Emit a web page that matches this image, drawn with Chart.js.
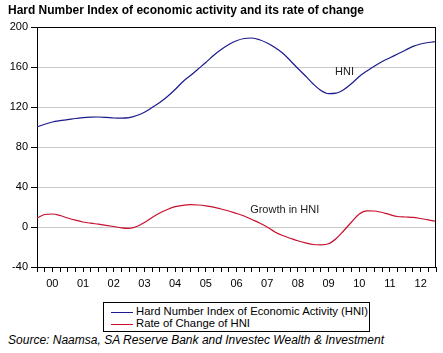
<!DOCTYPE html>
<html>
<head>
<meta charset="utf-8">
<script src="https://cdn.jsdelivr.net/npm/chart.js@4.4.1/dist/chart.umd.min.js"></script>
<style>
    body { margin: 0; background: #fff; font-family: "Liberation Sans", Arial, sans-serif; }
    #wrap { position: relative; width: 443px; height: 353px; overflow: hidden; }
    #hniChart { position: absolute; left: 0; top: 0; }
    .fit { position: absolute; white-space: nowrap; transform-origin: 0 50%; color: #000; }
    #title { left: 8px; top: 3px; font-size: 12px; font-weight: bold; }
    #source { left: 8px; top: 333px; font-size: 12px; font-style: italic; }
    #legendBox { position: absolute; left: 103px; top: 302px; width: 267px; height: 30px; border: 1px solid #000; box-sizing: border-box; }
    .legRow { position: absolute; left: 7px; height: 12px; }
    .legLine { position: absolute; left: 0; top: 6px; width: 22px; height: 1px; }
    .legText { position: absolute; left: 25px; top: -1px; font-size: 11px; white-space: nowrap; transform-origin: 0 50%; }
</style>
</head>
<body>
<div id="wrap">
    <canvas id="hniChart" width="443" height="300"></canvas>
    <div id="title" class="fit">Hard Number Index of economic activity and its rate of change</div>
    <div id="legendBox">
        <div class="legRow" style="top:3px"><div class="legLine" style="background:#1a1a8e"></div><div class="legText" id="leg1">Hard Number Index of Economic Activity (HNI)</div></div>
        <div class="legRow" style="top:15px"><div class="legLine" style="background:#c8102e"></div><div class="legText" id="leg2">Rate of Change of HNI</div></div>
    </div>
    <div id="source" class="fit">Source: Naamsa, SA Reserve Bank and Investec Wealth &amp; Investment</div>
</div>
<script>
// quarterly observations, 2000Q1 .. 2013Q1
const quarters = [];
for (let y = 2000; y <= 2012; y++) {
    for (let q = 1; q <= 4; q++) quarters.push(y + "Q" + q);
}
quarters.push("2013Q1");

const hni = [
    100, 102.8, 105, 106.3, 107.3, 108.5, 109.3, 109.8,
    110, 109.6, 109, 108.8, 109.3, 111.5, 114.8, 119.5,
    124.5, 130.5, 137.5, 145.3, 151.5, 158, 164.5, 171.5,
    177.5, 182.5, 186.3, 188.5, 189, 187.3, 184, 179.5,
    174, 166.5, 158.5, 151, 143, 136.5, 133.3, 133.8,
    137.5, 143.5, 150.5, 156, 161, 165.5, 169.3, 173,
    176.8, 180.6, 183, 184.5, 185.5
];

const hniGrowth = [
    9, 12.5, 13, 11.5, 9, 6.8, 5, 3.8,
    2.8, 1.7, 0.5, -0.8, -1.3, 0.5, 4.5, 9.5,
    14, 17.5, 20.3, 21.7, 22.3, 22, 21.2, 19.8,
    18, 16, 13.5, 11, 7.5, 4, 0, -5,
    -8.5, -11.2, -13.8, -15.8, -17.5, -17.8, -16.8, -11.5,
    -3.5, 5, 13, 16.2, 16, 14.5, 12.3, 10.5,
    10, 9.6, 8.5, 7.2, 5.6
];

const yTicks = [-40, 0, 40, 80, 120, 160, 200];

// in-chart labels: [text, quarter position, value]
const seriesLabels = [
    ["HNI", 2010.02, 155],
    ["Growth in HNI", 2008.07, 17.3]
];

function quarterToNum(s) {
    return Number(s.slice(0, 4)) + (Number(s.slice(5)) - 1) / 4;
}

const hniPoints = quarters.map((q, i) => ({ x: quarterToNum(q), y: hni[i] }));
const growthPoints = quarters.map((q, i) => ({ x: quarterToNum(q), y: hniGrowth[i] }));

const frame_plugin = {
    id: "frame",
    afterDatasetsDraw(chart) {
        const { ctx, chartArea, scales } = chart;
        ctx.save();
        ctx.strokeStyle = "#000";
        ctx.lineWidth = 1;
        ctx.beginPath();
        ctx.moveTo(chartArea.left, Math.round(chartArea.top) + 0.5);
        ctx.lineTo(chartArea.right, Math.round(chartArea.top) + 0.5);
        ctx.moveTo(Math.round(chartArea.right) - 0.5, chartArea.top);
        ctx.lineTo(Math.round(chartArea.right) - 0.5, chartArea.bottom);
        ctx.stroke();

        ctx.fillStyle = "#222";
        ctx.font = "11px 'Liberation Sans', Arial, sans-serif";
        ctx.textAlign = "center";
        ctx.textBaseline = "middle";
        seriesLabels.forEach(([text, xv, yv]) => {
            ctx.fillText(text, scales.x.getPixelForValue(xv), scales.y.getPixelForValue(yv));
        });
        ctx.restore();
    }
};

new Chart(document.getElementById("hniChart"), {
    type: "line",
    data: {
        datasets: [{
            label: "Hard Number Index of Economic Activity (HNI)",
            data: hniPoints,
            borderColor: "#1a1a8e",
            borderWidth: 1.2,
            pointRadius: 0,
            cubicInterpolationMode: "monotone"
        }, {
            label: "Rate of Change of HNI",
            data: growthPoints,
            borderColor: "#c8102e",
            borderWidth: 1.2,
            pointRadius: 0,
            cubicInterpolationMode: "monotone"
        }]
    },
    options: {
        responsive: false,
        animation: false,
        layout: { padding: { left: 0, top: 27, right: 7, bottom: 0 } },
        plugins: {
            legend: { display: false },
            tooltip: { enabled: false }
        },
        scales: {
            x: {
                type: "linear",
                min: 2000,
                max: 2013,
                afterFit(scale) { scale.height = 33; },
                border: { display: true, color: "#000", width: 1 },
                grid: { drawOnChartArea: false, tickLength: 5, tickColor: "#000" },
                ticks: {
                    stepSize: 0.25,
                    autoSkip: false,
                    maxRotation: 0,
                    padding: 5,
                    color: "#000",
                    font: { family: "'Liberation Sans', Arial, sans-serif", size: 11 },
                    callback: v => (v % 1 === 0.5) ? String(Math.floor(v) % 100).padStart(2, "0") : ""
                }
            },
            y: {
                min: -40,
                max: 200,
                afterFit(scale) { scale.width = 37; },
                afterBuildTicks(scale) { scale.ticks = yTicks.map(v => ({ value: v })); },
                border: { display: true, color: "#000", width: 1 },
                grid: {
                    tickLength: 6,
                    tickColor: "#000",
                    color: ctx => (ctx.tick && (ctx.tick.value === 200 || ctx.tick.value === -40)) ? "rgba(0,0,0,0)" : "#c8c8c8"
                },
                ticks: {
                    padding: 3,
                    color: "#000",
                    font: { family: "'Liberation Sans', Arial, sans-serif", size: 11 }
                }
            }
        }
    },
    plugins: [frame_plugin]
});

function fitWidth(id, target) {
    const el = document.getElementById(id);
    const w = el.getBoundingClientRect().width;
    el.style.transform = "scaleX(" + (target / w) + ")";
}
fitWidth("title", 356);
fitWidth("source", 376);
fitWidth("leg1", 232);
fitWidth("leg2", 114);
</script>
</body>
</html>
